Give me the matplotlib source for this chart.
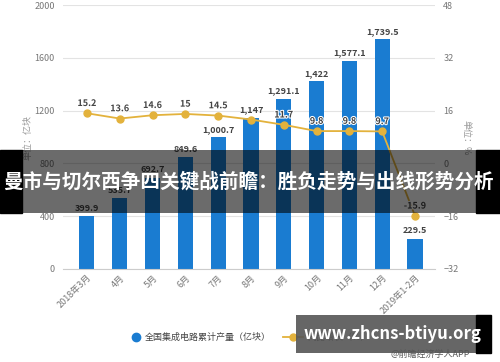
import matplotlib
matplotlib.use('Agg')
import matplotlib.pyplot as plt
import matplotlib.patheffects as pe
from matplotlib.patches import Rectangle
from matplotlib.lines import Line2D

plt.rcParams['font.family'] = ['Noto Sans CJK SC', 'DejaVu Sans']

# data
months = ['2018年3月', '4月', '5月', '6月', '7月', '8月', '9月', '10月', '11月', '12月', '2019年1-2月']
output = [399.9, 535.7, 692.7, 849.6, 1000.7, 1147, 1291.1, 1422, 1577.1, 1739.5, 229.5]
output_labels = ['399.9', '535.7', '692.7', '849.6', '1,000.7', '1,147', '1,291.1', '1,422', '1,577.1', '1,739.5', '229.5']
growth = [15.2, 13.6, 14.6, 15, 14.5, 13.3, 11.7, 9.8, 9.8, 9.7, -15.9]
growth_labels = ['15.2', '13.6', '14.6', '15', '14.5', '', '11.7', '9.8', '9.8', '9.7', '-15.9']
left_ticks = [0, 400, 800, 1200, 1600, 2000]
right_ticks = [-32, -16, 0, 16, 32, 48]

blue = '#1a7cd1'
gold = '#e3b23c'
grey = '#777777'

fig = plt.figure(figsize=(5, 3.62), dpi=100)
ax = fig.add_axes([0.126, 0.257, 0.744, 0.729])
ax2 = ax.twinx()

x = list(range(len(months)))
ax.bar(x, output, width=0.46, color=blue, zorder=2)
for xi, v, lab in zip(x, output, output_labels):
    ax.text(xi, v + 25, lab, ha='center', va='bottom', fontsize=6.5,
            fontweight='bold', color='#444444', zorder=5)

ax.set_ylim(0, 2000)
ax.set_yticks(left_ticks)
ax.set_xlim(-0.73, 10.61)
ax.set_xticks(x)
ax.set_xticklabels(months, rotation=45, ha='right', rotation_mode='anchor',
                   fontsize=6.5, color=grey)
ax.grid(axis='y', color='#e3e3e3', linewidth=0.8, zorder=0)
ax.set_axisbelow(True)
ax.tick_params(axis='y', length=0, labelsize=6.5, labelcolor=grey, pad=6)
ax.tick_params(axis='x', length=0, pad=3)
for s in ['top', 'right', 'left']:
    ax.spines[s].set_visible(False)
ax.spines['bottom'].set_color('#cccccc')

ax2.plot(x, growth, color=gold, linewidth=1.3, marker='o', markersize=5, zorder=4)
for xi, v, lab in zip(x, growth, growth_labels):
    if lab:
        ax2.text(xi, v + 1.6, lab, ha='center', va='bottom', fontsize=6.5,
                 fontweight='bold', color='#444444', zorder=6,
                 path_effects=[pe.withStroke(linewidth=1.5, foreground='white')])
ax2.set_ylim(-32, 48)
ax2.set_yticks(right_ticks)
ax2.tick_params(axis='y', length=0, labelsize=6.5, labelcolor=grey, pad=6)
for s in ['top', 'right', 'left', 'bottom']:
    ax2.spines[s].set_visible(False)

fig.text(0.056, 0.62, '单位：亿块', rotation=90, ha='center', va='center',
         fontsize=6.5, color='#999999')
fig.text(0.932, 0.62, '单位：%', rotation=270, ha='center', va='center',
         fontsize=6.5, color='#999999')

# legend
fig.add_artist(Line2D([0.272], [0.069], marker='o', color=blue, markersize=6,
                      linestyle='none', transform=fig.transFigure))
fig.text(0.29, 0.069, '全国集成电路累计产量（亿块）', ha='left', va='center',
         fontsize=6.5, color='#444444')
fig.add_artist(Line2D([0.565, 0.605], [0.069, 0.069], color=gold, linewidth=1.3,
                      transform=fig.transFigure))
fig.add_artist(Line2D([0.585], [0.069], marker='o', color=gold, markersize=5,
                      linestyle='none', transform=fig.transFigure))
fig.text(0.615, 0.069, '同比增长（%）', ha='left', va='center',
         fontsize=6.5, color='#444444')
fig.text(0.86, 0.02, '@前瞻经济学人APP', ha='center', va='center',
         fontsize=6.5, color='#555555')

# overlay title band
fig.add_artist(Rectangle((0, 1 - 213 / 362), 22 / 500, 63 / 362, transform=fig.transFigure,
                         color='black', zorder=10))
fig.add_artist(Rectangle((22 / 500, 1 - 213 / 362), 454 / 500, 63 / 362, transform=fig.transFigure,
                         color='black', alpha=0.58, zorder=10, linewidth=0))
fig.add_artist(Rectangle((476 / 500, 1 - 213 / 362), 24 / 500, 63 / 362, transform=fig.transFigure,
                         color='black', zorder=10))
fig.text(0.497, 1 - 182 / 362, '曼市与切尔西争四关键战前瞻：胜负走势与出线形势分析',
         ha='center', va='center', fontsize=14.1, fontweight='bold', color='white', zorder=11)

# watermark box at bottom
fig.add_artist(Rectangle((296 / 500, 1 - 353 / 362), 180 / 500, 38 / 362, transform=fig.transFigure,
                         color='#555555', alpha=0.9, zorder=10, linewidth=0))
fig.add_artist(Rectangle((476 / 500, 1 - 353 / 362), 15 / 500, 38 / 362, transform=fig.transFigure,
                         color='black', zorder=10))
fig.text(392 / 500, 1 - 334 / 362, 'www.zhcns-btiyu.org', ha='center', va='center',
         fontsize=12, fontweight='bold', color='white', zorder=11)

fig.savefig('out.png', dpi=100)
